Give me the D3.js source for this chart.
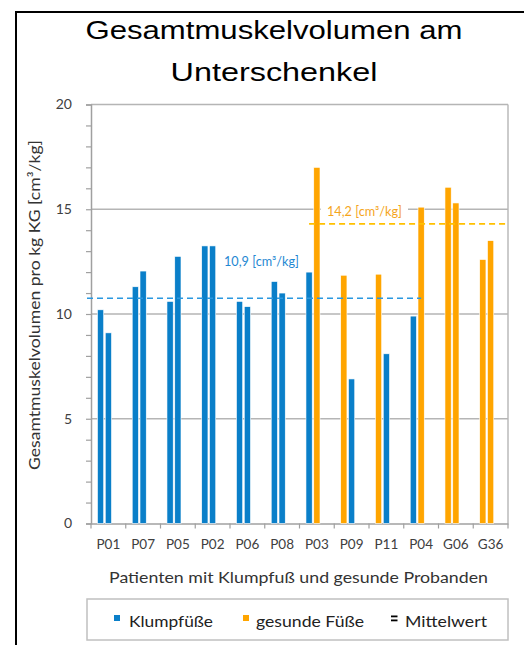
<!DOCTYPE html>
<html>
<head>
<meta charset="utf-8">
<script src="https://cdn.jsdelivr.net/npm/d3@7"></script>
<style>
  html, body { margin: 0; padding: 0; background: #fff; }
  svg { display: block; }
</style>
</head>
<body>
<script>
// ---- data ----
const categories = ["P01","P07","P05","P02","P06","P08","P03","P09","P11","P04","G06","G36"];
const bar1Values = [10.2, 11.3, 10.6, 13.25, 10.6, 11.55, 12.0, 11.85, 11.9, 9.9, 16.05, 12.6];
const bar1Groups = ["K","K","K","K","K","K","K","G","G","K","G","G"];
const bar2Values = [9.1, 12.05, 12.75, 13.25, 10.35, 11.0, 17.0, 6.9, 8.1, 15.1, 15.3, 13.5];
const bar2Groups = ["K","K","K","K","K","K","G","K","K","G","G","G"];
const yTicks = [0, 5, 10, 15, 20];
const meanValues = [10.75, 14.3];
const meanLabels = ["10,9 [cm³/kg]", "14,2 [cm³/kg]"];
const legendLabels = ["Klumpfüße", "gesunde Füße", "Mittelwert"];
const titleLines = ["Gesamtmuskelvolumen am", "Unterschenkel"];
const yTitle = "Gesamtmuskelvolumen pro kg KG [cm³/kg]";
const xTitle = "Patienten mit Klumpfuß und gesunde Probanden";

const colors = { K: "#0a7fc9", G: "#ffa500" };
const meanColors = ["#2a98e0", "#ffc000"];
const labelColors = ["#1f88d2", "#f5a51c"];

const W = 524, H = 645;
const svg = d3.select("body").append("svg").attr("width", W).attr("height", H);

// frame
svg.append("path").attr("d", `M16,${H} V12 H${W}`).attr("fill", "none")
  .attr("stroke", "#000").attr("stroke-width", 2);

// title
svg.selectAll("text.title").data(titleLines).join("text")
  .attr("class", "title")
  .attr("x", 274).attr("y", (d, i) => 39 + i * 42)
  .attr("text-anchor", "middle")
  .attr("font-family", "Liberation Sans, Arial, sans-serif")
  .attr("font-size", 26)
  .attr("textLength", (d, i) => i === 0 ? 377 : 207)
  .attr("lengthAdjust", "spacingAndGlyphs")
  .attr("fill", "#000")
  .text(d => d);

// scales
const x = d3.scaleBand().domain(categories).range([91, 508]).padding(0);
const inner = d3.scaleBand().domain(["a", "b", "c"]).range([0, x.bandwidth()])
  .paddingInner(0.2).paddingOuter(0.83);
const y = d3.scaleLinear().domain([0, 20]).range([523.5, 104.5]);

const gridColor = "#b5b5b5";
const axisColor = "#a0a0a0";

// gridlines
svg.append("g").selectAll("line").data(yTicks.filter(d => d > 0)).join("line")
  .attr("x1", x.range()[0]).attr("x2", x.range()[1])
  .attr("y1", d => y(d)).attr("y2", d => y(d))
  .attr("stroke", gridColor).attr("stroke-width", 1.4);
// right border
svg.append("line").attr("x1", x.range()[1]).attr("x2", x.range()[1])
  .attr("y1", y(20)).attr("y2", y(0)).attr("stroke", gridColor).attr("stroke-width", 1.4);

// y axis
const yAxisG = svg.append("g").attr("transform", `translate(${x.range()[0]},0)`)
  .call(d3.axisLeft(y).tickValues(d3.range(0, 21, 1)).tickSize(5)
    .tickPadding(14).tickFormat(d => yTicks.includes(d) ? d : ""));
yAxisG.select(".domain").attr("stroke", axisColor).attr("stroke-width", 1.5);
yAxisG.selectAll(".tick line").attr("stroke", axisColor).attr("stroke-width", 1.2);
yAxisG.selectAll("text").attr("font-family", "Lato, sans-serif").attr("font-size", 14)
  .attr("fill", "#404040");

// x axis (boundary ticks)
const xAxisG = svg.append("g").attr("transform", `translate(0,${y(0)})`)
  .call(d3.axisBottom(x).tickSize(0).tickPadding(16));
xAxisG.select(".domain").attr("stroke", axisColor).attr("stroke-width", 1.5);
xAxisG.selectAll("text").attr("font-family", "Lato, sans-serif").attr("font-size", 13.5)
  .attr("fill", "#404040");
const boundaries = categories.map(c => x(c)).concat([x.range()[1]]);
svg.append("g").selectAll("line").data(boundaries).join("line")
  .attr("x1", d => d).attr("x2", d => d)
  .attr("y1", y(0)).attr("y2", y(0) + 5)
  .attr("stroke", axisColor).attr("stroke-width", 1.2);

// bars
const barData = [];
categories.forEach((c, i) => {
  barData.push({ cat: c, slot: "a", v: bar1Values[i], g: bar1Groups[i] });
  barData.push({ cat: c, slot: "b", v: bar2Values[i], g: bar2Groups[i] });
});
svg.append("g").selectAll("rect").data(barData).join("rect")
  .attr("x", d => x(d.cat) + inner(d.slot))
  .attr("width", inner.bandwidth())
  .attr("y", d => y(d.v))
  .attr("height", d => y(0) - y(d.v))
  .attr("fill", d => colors[d.g])
  .attr("stroke", "#ffffff").attr("stroke-width", 0.6);

// mean lines
const meanExtents = [
  [x.range()[0] - 4, x("P04") + inner("b") + inner.bandwidth() / 2],
  [x("P03") + inner("a") + inner.bandwidth() / 2, x.range()[1]]
];
svg.append("g").selectAll("line").data(meanValues).join("line")
  .attr("x1", (d, i) => meanExtents[i][0]).attr("x2", (d, i) => meanExtents[i][1])
  .attr("y1", d => y(d)).attr("y2", d => y(d))
  .attr("stroke", (d, i) => meanColors[i]).attr("stroke-width", 1.6)
  .attr("stroke-dasharray", "6,4");

// mean labels
const labelPos = [
  { x: x("P06") - 6, y: y(12.5) + 4.5 },
  { x: x("P03") + 27.5, y: y(14.9) + 4.5 }
];
// white box behind orange label
svg.append("rect").attr("x", labelPos[1].x - 6).attr("y", labelPos[1].y - 12)
  .attr("width", 87).attr("height", 16).attr("fill", "#fff");
svg.append("g").selectAll("text").data(meanLabels).join("text")
  .attr("x", (d, i) => labelPos[i].x).attr("y", (d, i) => labelPos[i].y)
  .attr("font-family", "Lato, sans-serif").attr("font-size", 13)
  .attr("textLength", 75).attr("lengthAdjust", "spacingAndGlyphs")
  .attr("fill", (d, i) => labelColors[i])
  .text(d => d);

// axis titles
svg.append("text").attr("transform", "translate(40,305) rotate(-90)")
  .attr("text-anchor", "middle")
  .attr("font-family", "Lato, sans-serif").attr("font-size", 15)
  .attr("textLength", 330).attr("lengthAdjust", "spacingAndGlyphs")
  .attr("fill", "#333").text(yTitle);
svg.append("text").attr("x", 298.5).attr("y", 583)
  .attr("text-anchor", "middle")
  .attr("font-family", "Lato, sans-serif").attr("font-size", 16)
  .attr("textLength", 379).attr("lengthAdjust", "spacingAndGlyphs")
  .attr("fill", "#333").text(xTitle);

// legend
const lg = svg.append("g");
lg.append("rect").attr("x", 87).attr("y", 599).attr("width", 421).attr("height", 41)
  .attr("fill", "#fff").attr("stroke", "#c0c0c0").attr("stroke-width", 1.5);
const legendItems = [
  { key: "K", sx: 114, tx: 129, tl: 84 },
  { key: "G", sx: 243, tx: 256, tl: 108 },
  { key: "M", sx: 391, tx: 405, tl: 82 }
];
legendItems.forEach((it, i) => {
  if (it.key === "M") {
    lg.append("rect").attr("x", it.sx).attr("y", 615.5).attr("width", 6.5).attr("height", 1.8).attr("fill", "#000");
    lg.append("rect").attr("x", it.sx).attr("y", 619.5).attr("width", 6.5).attr("height", 1.8).attr("fill", "#000");
  } else {
    lg.append("rect").attr("x", it.sx).attr("y", 615).attr("width", 6).attr("height", 6)
      .attr("fill", colors[it.key]);
  }
  lg.append("text").attr("x", it.tx).attr("y", 627)
    .attr("font-family", "Lato, sans-serif").attr("font-size", 16)
    .attr("textLength", it.tl).attr("lengthAdjust", "spacingAndGlyphs")
    .attr("fill", "#222").text(legendLabels[i]);
});
</script>
</body>
</html>
